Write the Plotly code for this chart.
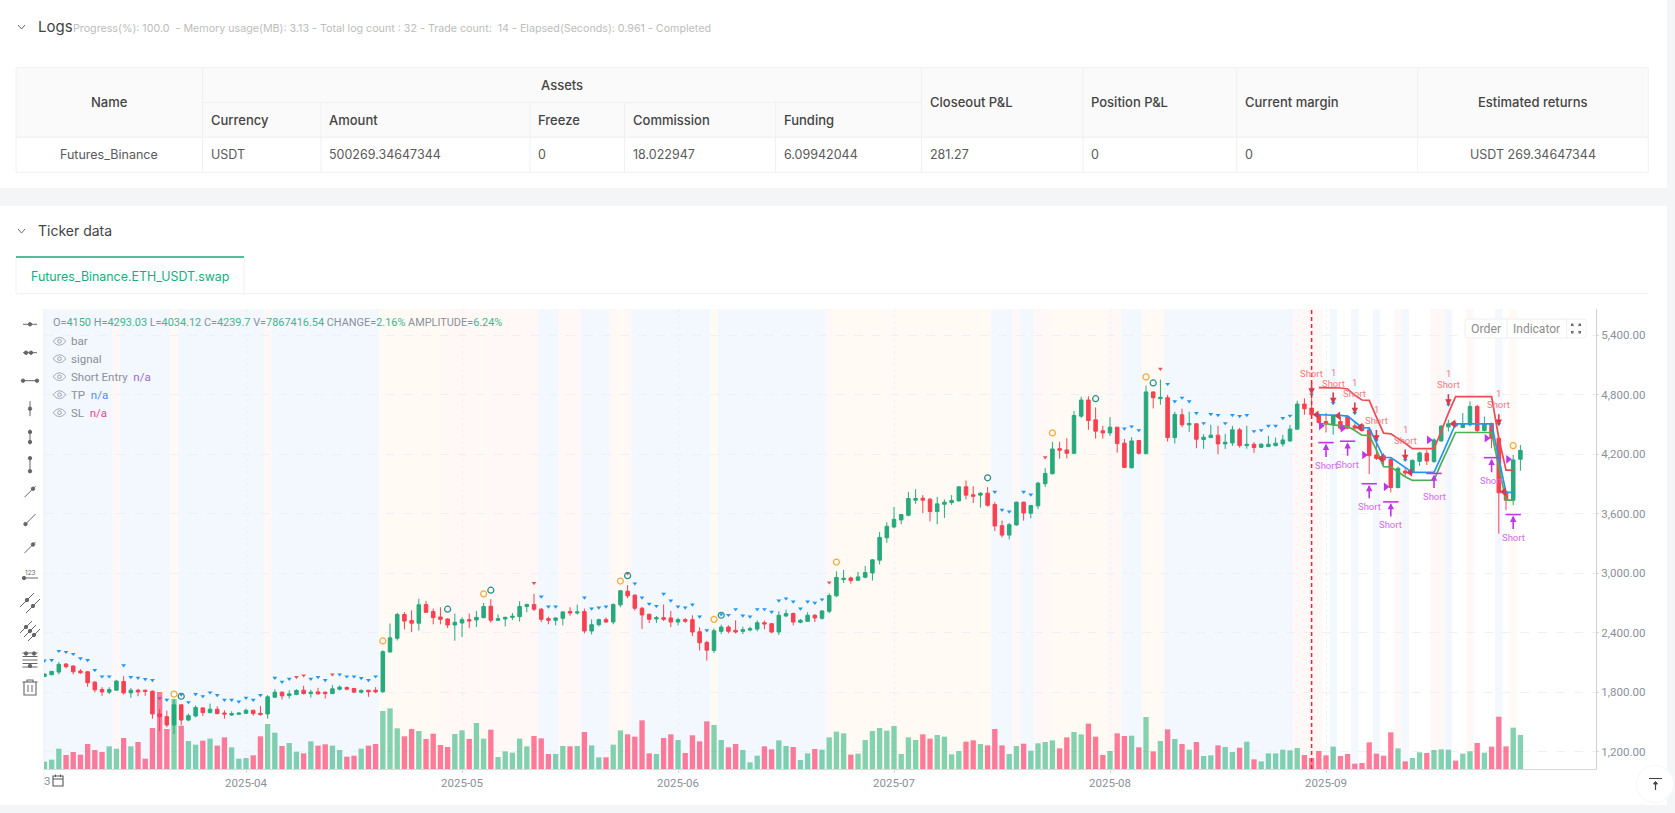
import plotly.graph_objects as go

PAGE_W, PAGE_H = 1675, 813

# bars are counted from the 2025-04 tick, one bar a day
bars = list(range(-28, 178))

opens = [1959,1976,2003,2084,2064,2013,2006,1901,1827,1800,1820,1908,1793,1820,1820,1810,1580,1553,1469,1672,1519,1560,1641,1594,1628,1590,1570,1577,
1587,1617,1587,1580,1749,1800,1766,1776,1820,1786,1803,1800,1786,1830,1847,1837,1800,1820,1820,1803,2206,2344,2584,2523,2496,
2684,2613,2559,2539,2478,2498,2532,2528,2552,2667,2525,2539,2555,2562,2664,2684,2637,2542,2525,2545,2613,2599,2613,2417,2481,2532,2508,2681,2819,2779,2647,2586,2539,2552,2549,2508,2532,2532,2410,2302,2221,2414,2457,2424,2414,2427,2437,2501,2491,2407,2569,2593,2505,2515,2576,2545,2616,2772,
2936,2953,2929,2960,3003,3132,3358,3467,3538,3585,3737,3757,3747,3622,3696,3713,3730,3872,3791,3788,3808,3693,3480,3385,3487,3717,3605,3680,3903,4004,4257,4244,4210,4585,4748,4548,4437,4416,4474,4312,4065,4339,4207,4829,4761,4771,4369,4599,4497,4508,4349,4369,4393,4305,4315,4447,4288,4301,
4271,4278,4288,4305,4335,4454,4707,4666,4599,4531,4497,4531,4582,4487,4497,4447,4193,4186,4149,3865,4031,4017,4129,4210,4126,4335,4477,4508,4470,4497,4683,4440,4511,4362,3821,3737,4150]
highs = [1989,2013,2104,2094,2070,2033,2013,1912,1851,1851,1925,1962,1841,1834,1824,1817,1631,1614,1732,1678,1584,1668,1648,1685,1658,1617,1607,1597,
1634,1624,1661,1770,1830,1807,1820,1830,1864,1824,1844,1807,1871,1868,1857,1844,1830,1820,1851,2223,2493,2601,2608,2625,2743,
2721,2643,2657,2545,2593,2555,2593,2620,2701,2738,2586,2562,2599,2718,2694,2792,2650,2562,2555,2616,2657,2684,2643,2535,2542,2555,2697,2829,2880,2789,2660,2593,2569,2684,2620,2552,2549,2576,2454,2319,2444,2481,2474,2525,2461,2461,2525,2522,2498,2616,2633,2603,2539,2606,2589,2626,2799,3019,
3034,2966,3014,3074,3142,3416,3514,3669,3598,3821,3848,3788,3757,3771,3744,3788,3879,3936,3879,3818,3869,3717,3531,3507,3723,3723,3690,3923,4061,4325,4325,4362,4636,4781,4785,4673,4487,4575,4474,4355,4372,4345,4893,4835,4954,4798,4629,4660,4629,4514,4403,4497,4487,4406,4487,4467,4487,4322,
4312,4386,4369,4396,4497,4741,4764,4764,4616,4616,4599,4582,4595,4514,4514,4464,4362,4210,4159,4075,4058,4149,4227,4244,4362,4497,4548,4531,4616,4734,4700,4582,4521,4379,3838,4193,4293.03]
lows = [1952,1972,1979,2040,1979,1986,1854,1797,1763,1780,1814,1776,1743,1759,1763,1533,1408,1445,1377,1469,1506,1546,1560,1587,1577,1533,1560,1570,
1580,1563,1563,1533,1743,1726,1736,1770,1776,1746,1776,1736,1780,1817,1820,1797,1786,1753,1790,1797,2199,2321,2435,2408,2422,
2603,2485,2485,2447,2319,2356,2447,2457,2545,2501,2518,2464,2528,2512,2606,2620,2508,2485,2474,2474,2572,2583,2393,2383,2464,2498,2485,2657,2748,2623,2437,2498,2498,2518,2457,2474,2501,2366,2221,2119,2194,2386,2393,2393,2386,2414,2414,2434,2393,2376,2559,2474,2495,2508,2508,2532,2596,2758,
2902,2895,2926,2949,2926,3088,3308,3453,3494,3575,3700,3605,3524,3494,3558,3690,3723,3744,3707,3663,3673,3426,3362,3341,3480,3531,3554,3646,3872,3997,4156,4159,4203,4568,4447,4359,4359,4386,4217,4061,4055,4197,4200,4663,4700,4328,4308,4474,4426,4261,4254,4366,4200,4254,4285,4268,4257,4214,
4264,4271,4278,4278,4325,4447,4599,4582,4514,4420,4399,4447,4454,4447,4430,4001,4143,4092,3815,3855,3974,4007,4082,4092,4116,4328,4430,4474,4464,4480,4420,4430,4261,3399,3636,3686,4034.12]
closes = [1983,2010,2081,2057,2006,1996,1895,1824,1803,1827,1912,1793,1820,1803,1807,1580,1553,1469,1672,1519,1563,1645,1594,1628,1584,1580,1584,1590,
1617,1584,1574,1753,1800,1763,1783,1817,1786,1800,1783,1786,1834,1851,1830,1800,1817,1803,1803,2209,2348,2584,2517,2496,2682,
2606,2552,2535,2478,2505,2532,2518,2555,2664,2525,2542,2555,2566,2664,2684,2637,2535,2525,2549,2610,2599,2610,2417,2481,2532,2508,2684,2823,2772,2647,2579,2535,2552,2535,2508,2532,2515,2407,2299,2224,2420,2457,2414,2407,2430,2441,2501,2488,2407,2576,2593,2508,2525,2576,2549,2620,2775,2958,
2949,2926,2963,3007,3135,3362,3473,3544,3592,3754,3754,3737,3622,3700,3717,3734,3872,3788,3777,3808,3686,3477,3385,3490,3717,3608,3683,3909,4007,4254,4241,4210,4592,4748,4541,4433,4416,4474,4308,4068,4335,4210,4829,4771,4775,4369,4602,4497,4511,4352,4372,4393,4305,4322,4447,4288,4301,4268,
4301,4301,4312,4345,4454,4707,4660,4599,4521,4508,4592,4464,4464,4464,4440,4186,4159,4143,3865,4058,4011,4139,4214,4132,4345,4484,4508,4487,4508,4683,4440,4511,4362,3811,3737,4143,4239.7]

# volume in millions
volumes = [1.70,2.16,4.70,3.24,3.93,3.32,5.78,4.39,3.93,5.24,4.70,7.17,5.24,6.25,2.39,9.48,17.81,9.25,16.19,10.02,6.48,5.63,6.55,7.02,5.40,7.32,5.01,2.39,
2.54,3.16,7.56,10.41,8.40,5.32,6.01,4.01,3.62,6.40,5.40,5.71,5.40,4.39,2.85,3.08,4.70,5.40,5.78,13.42,14.03,9.41,7.56,9.25,8.79,
6.94,8.17,5.55,5.09,8.10,8.94,6.94,10.64,7.02,9.10,2.78,4.09,3.78,7.02,5.24,7.63,7.09,3.47,3.47,5.32,5.24,5.32,8.56,5.47,2.70,2.70,5.63,8.94,8.02,7.48,11.26,3.62,3.47,7.17,8.02,6.71,3.70,7.79,6.40,11.03,10.18,6.71,5.01,5.78,4.39,1.54,3.08,5.24,4.55,6.63,5.32,5.09,2.08,3.62,4.63,4.47,7.32,8.64,
8.25,3.32,3.55,6.71,8.79,9.48,8.87,9.95,3.47,7.32,6.71,8.02,7.02,7.86,7.48,3.39,4.16,6.32,6.63,5.78,5.47,9.25,5.47,3.47,5.32,5.86,4.24,5.94,6.25,6.63,4.78,7.32,8.56,8.02,10.49,7.48,3.24,4.16,8.25,7.63,7.71,5.01,12.03,4.09,6.48,9.17,6.94,5.78,4.47,6.25,3.01,3.16,5.47,5.09,3.93,4.93,6.32,2.24,
1.77,3.62,3.62,4.47,4.32,4.86,3.24,2.54,4.16,3.16,5.17,3.01,3.47,1.23,1.39,6.17,3.55,3.08,8.48,4.78,1.77,2.54,3.86,3.70,4.39,4.55,4.47,1.93,3.55,4.09,6.01,3.78,5.17,12.10,5.24,9.56,7.87]

month_ticks = [0, 30, 60, 90, 120, 150]
month_labels = ["2025-04", "2025-05", "2025-06", "2025-07", "2025-08", "2025-09"]
price_ticks = [1200, 1800, 2400, 3000, 3600, 4200, 4800, 5400]

# signal marks
blue_bars = [-28,-27,-26,-25,-24,-23,-22,-21,-20,-19,-17,-16,-15,-14,-13,-12,-11,-9,-8,-7,-6,-5,-4,-3,-2,-1,0,1,2,4,5,6,9,10,11,13,14,15,16,17,18,
41,42,43,47,48,49,50,54,55,56,57,58,59,60,61,62,63,64,66,67,68,69,70,71,72,73,74,75,76,77,78,79,80,
104,105,106,108,109,122,123,124,128,129,130,131,132,133,134,135,136,137,138,139,140,141,142,143,144,145,148,151,154,157,161,167,174]
blue_prices = [2118,2124,2216,2206,2185,2141,2124,2023,1959,1959,2070,1952,1945,1932,1922,1739,1722,1776,1699,1780,1759,1797,1770,1722,1722,1705,1743,1722,1770,1945,1905,1935,1935,1952,1922,1979,1959,1959,1942,1922,1959,
2765,2664,2664,2755,2643,2654,2664,2897,2755,2691,2670,2792,2724,2664,2654,2684,2562,2424,2586,2579,2637,2572,2562,2637,2637,2610,2724,2745,2714,2643,2714,2701,2735,
3821,3639,3622,3821,3794,4460,4481,4443,4910,4734,4771,4734,4616,4514,4606,4595,4514,4595,4585,4595,4433,4443,4487,4487,4565,4589,4802,4717,4616,4339,4143,4700,4504]
red_tri_bars = [7, 8, 12, 40, 53, 81, 111, 127]
red_tri_prices = [1952, 1969, 1979, 2900, 2998, 2907, 4170, 5062]
orange_bars = [-10, 19, 33, 52, 65, 82, 112, 125, 176]
orange_prices = [1780, 2317, 2792, 2921, 2535, 3113, 4416, 4981, 4288]
teal_bars = [-9, 28, 34, 53, 66, 103, 118, 126]
teal_prices = [1759, 2637, 2829, 2975, 2576, 3963, 4761, 4920]

# trade lines
trade_bars = list(range(149, 177))
sl_line = [4873,4873,4869,4869,4859,4795,4748,4744,4575,4413,4406,4362,4312,4257,4257,4257,4257,4430,4616,4781,4781,4781,4781,4781,4781,4362,4041,4041]
tp_line = [4599,4599,4592,4592,4585,4531,4470,4467,4318,4170,4166,4119,4065,4017,4017,4017,4017,4176,4345,4508,4508,4508,4508,4508,4508,4159,3815,3815]
entry_line = [4511,4508,4497,4487,4481,4440,4393,4389,4244,4075,4072,4024,3974,3936,3936,3936,3940,4109,4268,4420,4420,4420,4420,4420,4420,4075,3737,3737]

# trade arrows
sell_bars = [148, 151, 154, 157, 161, 167, 174]
sell_tips = [4802, 4707, 4606, 4328, 4132, 4690, 4487]
cover_bars = [150, 153, 156, 159, 165, 173, 176]
cover_tops = [4318, 4332, 3903, 3720, 4007, 4166, 3592]
right_tri_bars = [149, 152, 155, 158, 164, 172, 175]
right_tri_prices = [4487, 4464, 4193, 3872, 4345, 4362, 4149]
left_tri_bars = [149, 152, 155, 158, 162, 168, 175]
left_tri_prices = [4599, 4589, 4470, 4159, 4017, 4508, 3821]
start_bar = 148

# background bands, first and last bar
blue_bands = [(-28,-19),(-17,-11),(-9,2),(4,18),(41,43),(47,50),(54,64),(66,80),(104,106),(108,109),(122,124),(128,145),(151,151),(154,154),(157,157),(161,161),(167,167),(174,174)]
pink_bands = [(-18,-18),(3,3),(28,32),(34,40),(44,46),(51,51),(53,53),(81,81),(107,107),(110,111),(120,121),(146,149),(160,160),(165,166),(170,170)]
orange_bands = [(-10,-10),(19,27),(33,33),(52,52),(65,65),(82,103),(112,119),(125,127),(176,176)]

# table text
sub_headers = ["Currency", "Amount", "Freeze", "Commission", "Funding"]
side_headers = ["Closeout P&L", "Position P&L", "Current margin"]
row_values = ["USDT", "500269.34647344", "0", "18.022947", "6.09942044", "281.27", "0", "0"]
col_edges = [16, 202.5, 321, 530, 624.5, 775.6, 921.5, 1083, 1236.7, 1417.7, 1648.3]

GREEN = "#26a97c"
RED = "#f9404f"
TEXT = "#8a8f9c"
FONT = "Inter"
CHART_FONT = "Roboto"


def px(x):
    return x / PAGE_W


def py(y):
    return 1 - y / PAGE_H


shapes = []
notes = []


def rect(x0, y0, x1, y1, fill="white", line=None, width=1):
    shapes.append(dict(type="rect", xref="paper", yref="paper", x0=px(x0), x1=px(x1), y0=py(y0), y1=py(y1),
                       fillcolor=fill, line=dict(color=line or "rgba(0,0,0,0)", width=width if line else 0), layer="below"))


def seg(x0, y0, x1, y1, color="#f0f0f0", width=1, layer="below"):
    shapes.append(dict(type="line", xref="paper", yref="paper", x0=px(x0), x1=px(x1), y0=py(y0), y1=py(y1),
                       line=dict(color=color, width=width), layer=layer))


def dot(x, y, r=1.7, color="#666666", fill=None):
    shapes.append(dict(type="circle", xref="paper", yref="paper", x0=px(x - r), x1=px(x + r), y0=py(y - r), y1=py(y + r),
                       fillcolor=fill or color, line=dict(color=color, width=1), layer="above"))


def path(points, color="#666666", width=1.1, fill=None):
    shapes.append(dict(type="path", xref="paper", yref="paper", path=points,
                       line=dict(color=color, width=width), fillcolor=fill or "rgba(0,0,0,0)", layer="above"))


def label(x, y, text, size=12.5, color="#5a5a5a", anchor="left", font=FONT, weight=None):
    f = dict(family=font, size=size, color=color)
    if weight:
        f["weight"] = weight
    # annotations pad their text by a couple of pixels
    if anchor == "left":
        x -= 2
    notes.append(dict(xref="paper", yref="paper", x=px(x), y=py(y), text=text, showarrow=False,
                      xanchor=anchor, yanchor="middle", font=f, align=anchor))


# page panels
rect(0, 0, 1667, 188)
rect(0, 206, 1667, 805)

for cy, title, size in [(27, "Logs", 15), (231, "Ticker data", 14)]:
    seg(18, cy - 2, 21.5, cy + 2, "#666666", 1, "above")
    seg(21.5, cy + 2, 25, cy - 2, "#666666", 1, "above")
    label(37.5, cy, title, size=size, color="#444444")
label(73, 28.5, "Progress(%): 100.0 &nbsp;- Memory usage(MB): 3.13 - Total log count : 32 - Trade count: &nbsp;14 - Elapsed(Seconds): 0.961 - Completed",
      size=10.7, color="#bdbdbd")

# summary table
rect(16, 67.7, 1648.3, 137.3, fill="#fafafa", line="#f0f0f0")
rect(16, 137.3, 1648.3, 172.3, fill="white", line="#f0f0f0")
seg(202.5, 102.3, 921.5, 102.3)
for i, edge in enumerate(col_edges[1:-1]):
    top = 102.3 if 1 <= i <= 4 else 67.7
    seg(edge, top, edge, 172.3)

label(109, 102.5, "Name", anchor="center", color="#444444", weight=500, size=13)
label(562, 85, "Assets", anchor="center", color="#444444", weight=500, size=13)
for i, head in enumerate(sub_headers):
    label(col_edges[i + 1] + 8, 120, head, color="#444444", weight=500, size=13)
for i, head in enumerate(side_headers):
    label(col_edges[i + 6] + 8, 102.5, head, color="#444444", weight=500, size=13)
label(1533, 102.5, "Estimated returns", anchor="center", color="#444444", weight=500, size=13)
label(109, 155, "Futures_Binance", anchor="center")
for i, value in enumerate(row_values):
    label(col_edges[i + 1] + 8, 155, value)
label(1533, 155, "USDT 269.34647344", anchor="center")

# tab
rect(16, 257, 244, 293.7, fill="white", line="#f0f0f0")
seg(16, 257, 244, 257, "#1aab7c", 1.5)
seg(244, 293.7, 1648.3, 293.7)
label(130, 276, "Futures_Binance.ETH_USDT.swap", size=12.4, color="#12b07f", anchor="center")

# bands
for bands, color in [(blue_bands, "#f3f7fe"), (pink_bands, "#fff8f7"), (orange_bands, "#fffaf4")]:
    for first, last in bands:
        shapes.append(dict(type="rect", xref="x", yref="paper", x0=first - 0.5, x1=last + 0.5,
                           y0=py(769), y1=py(309), fillcolor=color, line_width=0, layer="below"))

shapes.append(dict(type="line", xref="x", yref="paper", x0=start_bar, x1=start_bar, y0=py(769), y1=py(309),
                   line=dict(color="#f5222d", width=1.5, dash="4px,3px"), layer="above"))
seg(44, 309, 44, 790, "#eef0f3", 1)

# readout
g = lambda s: f'<span style="color:#3cb68d">{s}</span>'
label(53, 323, "O=" + g("4150") + " H=" + g("4293.03") + " L=" + g("4034.12") + " C=" + g("4239.7") + " V=" + g("7867416.54")
      + " CHANGE=" + g("2.16%") + " AMPLITUDE=" + g("6.24%"), size=10.9, color=TEXT, font=CHART_FONT)

for cy, name, na, na_color in [(341.3, "bar", "", ""), (358.7, "signal", "", ""), (376.7, "Short Entry", "n/a", "#9b6bc0"),
                               (394.7, "TP", "n/a", "#4a90f5"), (412.7, "SL", "n/a", "#e8458f")]:
    path(f"M{px(53)},{py(cy)} Q{px(59.5)},{py(cy - 8)} {px(66)},{py(cy)} Q{px(59.5)},{py(cy + 8)} {px(53)},{py(cy)} Z", color="#9a9fab", width=0.9)
    dot(59.5, cy, 1.8, "#9a9fab", "rgba(0,0,0,0)")
    text = name + (f' &nbsp;<span style="color:{na_color}">{na}</span>' if na else "")
    label(70.5, cy, text, size=11.5, color=TEXT, font=CHART_FONT)

# drawing tools
ic = "#666666"
tool_x = 30
for cy, dots in [(324.3, [0]), (352.7, [-4, 1]), (380.7, [-7, 7])]:
    seg(tool_x - 7, cy, tool_x + 7, cy, ic, 1, "above")
    for d in dots:
        dot(tool_x + d, cy)
for cy, dots in [(408.7, [0]), (437, [-5, 5]), (464.7, [-6.5, 6.5])]:
    seg(tool_x, cy - 7.5, tool_x, cy + 7.5, ic, 1, "above")
    for d in dots:
        dot(tool_x, cy + d)
for cy, d0 in [(491.7, 0), (519.6, -4.5), (547.5, 0)]:
    seg(tool_x - 5.5, cy + 5.5, tool_x + 5.5, cy - 5.5, ic, 1, "above")
    dot(tool_x + d0 + (3 if d0 == 0 else 0), cy - d0 - (3 if d0 == 0 else 0))
seg(tool_x - 7, 578, tool_x + 8, 578, ic, 1, "above")
dot(tool_x - 6, 578)
label(tool_x + 1, 573, "123", size=6.5, color=ic, anchor="center")
for dx, dy in [(-3, -3), (3, 3)]:
    cy = 603
    seg(tool_x - 7 + dx, cy + 7 + dy, tool_x + 7 + dx, cy - 7 + dy, ic, 1, "above")
    dot(tool_x + dx, cy + dy)
for dx in [-4, 0, 4]:
    cy = 631
    seg(tool_x - 6 + dx, cy + 6 + dx, tool_x + 6 + dx, cy - 6 + dx, ic, 1, "above")
    dot(tool_x + dx, cy + dx)
for dy in [-7, -3.5, 0, 3.5, 7]:
    seg(tool_x - 7.5, 660 + dy, tool_x + 7.5, 660 + dy, ic, 1, "above")
dot(tool_x - 4, 653.5)
dot(tool_x + 4, 653.5)
dot(tool_x, 666)
# bin
seg(tool_x - 7.5, 682, tool_x + 7.5, 682, ic, 1.1, "above")
path(f"M{px(tool_x - 3)},{py(682)} L{px(tool_x - 3)},{py(680)} L{px(tool_x + 3)},{py(680)} L{px(tool_x + 3)},{py(682)}", ic)
path(f"M{px(tool_x - 6)},{py(682)} L{px(tool_x - 6)},{py(695)} L{px(tool_x + 6)},{py(695)} L{px(tool_x + 6)},{py(682)}", ic)
seg(tool_x - 2, 685, tool_x - 2, 692, ic, 1, "above")
seg(tool_x + 2, 685, tool_x + 2, 692, ic, 1, "above")

# clipped month label and calendar
label(47, 781, "3", size=11.5, color=TEXT, anchor="center", font=CHART_FONT)
path(f"M{px(53)},{py(776)} L{px(63)},{py(776)} L{px(63)},{py(786)} L{px(53)},{py(786)} Z", "#555555")
seg(53, 779, 63, 779, "#555555", 1, "above")
seg(55.5, 774.5, 55.5, 777, "#555555", 1, "above")
seg(60.5, 774.5, 60.5, 777, "#555555", 1, "above")

# order box
shapes.append(dict(type="path", xref="paper", yref="paper", layer="above", fillcolor="white", line=dict(color="#eeeeee", width=1),
                   path=f"M{px(1467)},{py(319)} L{px(1584)},{py(319)} Q{px(1586)},{py(319)} {px(1586)},{py(321)} L{px(1586)},{py(336)} "
                        f"Q{px(1586)},{py(338)} {px(1584)},{py(338)} L{px(1467)},{py(338)} Q{px(1465)},{py(338)} {px(1465)},{py(336)} "
                        f"L{px(1465)},{py(321)} Q{px(1465)},{py(319)} {px(1467)},{py(319)} Z"))
seg(1507, 319, 1507, 338, "#eeeeee", 1, "above")
seg(1566.7, 319, 1566.7, 338, "#eeeeee", 1, "above")
label(1486, 328.5, "Order", size=12.3, color="#8c8c8c", anchor="center", font=CHART_FONT)
label(1536.7, 328.5, "Indicator", size=12, color="#8c8c8c", anchor="center", font=CHART_FONT)
for sx, sy in [(-1, -1), (1, -1), (-1, 1), (1, 1)]:
    seg(1576 + sx * 4.5, 328.5 + sy * 4.5, 1576 + sx * 2.5, 328.5 + sy * 2.5, "#666666", 1.2, "above")
    seg(1576 + sx * 4.5, 328.5 + sy * 4.5, 1576 + sx * 4.5, 328.5 + sy * 2.5, "#666666", 1, "above")
    seg(1576 + sx * 4.5, 328.5 + sy * 4.5, 1576 + sx * 2.5, 328.5 + sy * 4.5, "#666666", 1, "above")

# back to top
shapes.append(dict(type="circle", xref="paper", yref="paper", x0=px(1636), x1=px(1674), y0=py(765), y1=py(803),
                   fillcolor="#f7f7f7", line_width=0, layer="above"))
shapes.append(dict(type="circle", xref="paper", yref="paper", x0=px(1637), x1=px(1673), y0=py(766), y1=py(802),
                   fillcolor="white", line_width=0, layer="above"))
seg(1649, 778.5, 1662, 778.5, "#444444", 1, "above")
seg(1655.5, 782, 1655.5, 790, "#444444", 1.2, "above")
path(f"M{px(1653.5)},{py(784)} L{px(1655.5)},{py(781.5)} L{px(1657.5)},{py(784)} Z", "#444444", 1, "#444444")

# trade arrows and their labels
for b, tip in zip(sell_bars, sell_tips):
    notes.append(dict(x=b, y=tip, xref="x", yref="y", ax=0, ay=-13, showarrow=True, text="", arrowhead=2, arrowsize=0.8,
                      arrowwidth=1.6, arrowcolor="#d9394a"))
    notes.append(dict(x=b, y=tip, xref="x", yref="y", yshift=21, text="Short", showarrow=False,
                      font=dict(family=CHART_FONT, size=9.5, color="#f07a80")))
    if b != start_bar:
        notes.append(dict(x=b, y=tip, xref="x", yref="y", yshift=32, text="1", showarrow=False,
                          font=dict(family=CHART_FONT, size=9.5, color="#f07a80")))
for b, top in zip(cover_bars, cover_tops):
    notes.append(dict(x=b, y=top, xref="x", yref="y", ax=0, ay=15, yshift=-1, showarrow=True, text="", arrowhead=2, arrowsize=0.8,
                      arrowwidth=1.6, arrowcolor="#c034ec"))
    notes.append(dict(x=b, y=top, xref="x", yref="y", yshift=-23, text="Short", showarrow=False,
                      font=dict(family=CHART_FONT, size=9.5, color="#d468f4")))

fig = go.Figure()
fig.add_trace(go.Candlestick(
    x=bars, open=opens, high=highs, low=lows, close=closes,
    increasing=dict(line=dict(color=GREEN, width=1), fillcolor=GREEN),
    decreasing=dict(line=dict(color=RED, width=1), fillcolor=RED),
    whiskerwidth=0,
))


def marks(x, y, symbol, color, size, width=0, name=None):
    fig.add_trace(go.Scatter(x=x, y=y, mode="markers", name=name,
                             marker=dict(symbol=symbol, size=size, color=color, line=dict(color=color, width=width))))


def level(y, color):
    fig.add_trace(go.Scatter(x=trade_bars, y=y, mode="lines", line=dict(color=color, width=1.7)))


level(sl_line, "#ef4b50")
level(tp_line, "#2196f3")
level(entry_line, "#4caf50")

marks(blue_bars, blue_prices, "triangle-down", "#2196f3", 4.2)
marks(red_tri_bars, red_tri_prices, "triangle-down", "#f0545c", 4.2)
marks(orange_bars, orange_prices, "circle-open", "#f7a935", 6, 1.2)
marks(teal_bars, teal_prices, "circle-open", "#1f8f85", 6, 1.2)

# triangles sit just beside their bar
marks([b + 0.3 for b in right_tri_bars], right_tri_prices, "triangle-right", "#c034ec", 7.5)
marks([b - 0.3 for b in left_tri_bars], left_tri_prices, "triangle-left", "#d9394a", 7.5)
marks(cover_bars, cover_tops, "line-ew-open", "#c034ec", 11, 1.6)

vol_colors = ["rgba(30,175,115,0.55)" if c >= o else "rgba(255,45,90,0.62)" for o, c in zip(opens, closes)]
fig.add_trace(go.Bar(x=bars, y=volumes, yaxis="y2", width=0.74, marker=dict(color=vol_colors, line_width=0)))

fig.update_layout(
    width=PAGE_W, height=PAGE_H,
    margin=dict(l=0, r=0, t=0, b=0),
    paper_bgcolor="#f4f5f7", plot_bgcolor="white",
    showlegend=False, hovermode=False,
    font=dict(family=CHART_FONT, color=TEXT),
    xaxis=dict(domain=[px(44), px(1596)], range=[-28.06, 187.5], rangeslider=dict(visible=False),
               tickvals=month_ticks, ticktext=month_labels, tickfont=dict(size=11.5, color=TEXT),
               showgrid=True, gridcolor="#eef0f4", griddash="dot", zeroline=False,
               showline=True, linecolor="#d9d9d9", ticks="outside", ticklen=3, tickcolor="#d9d9d9"),
    yaxis=dict(domain=[py(769), py(309)], range=[1025, 5666], side="right", tickvals=price_ticks, tickformat=",.2f",
               tickfont=dict(size=11.5, color=TEXT), showgrid=True, gridcolor="#eef0f4", griddash="dash", zeroline=False,
               showline=True, linecolor="#d0d0d0", ticks="outside", ticklen=2, tickcolor="#d9d9d9"),
    yaxis2=dict(overlaying="y", range=[0, 106.4], visible=False),
    shapes=shapes,
    annotations=notes,
)

fig.write_html("out.html", config=dict(displayModeBar=False),
               post_script="document.body.style.margin='0';")
